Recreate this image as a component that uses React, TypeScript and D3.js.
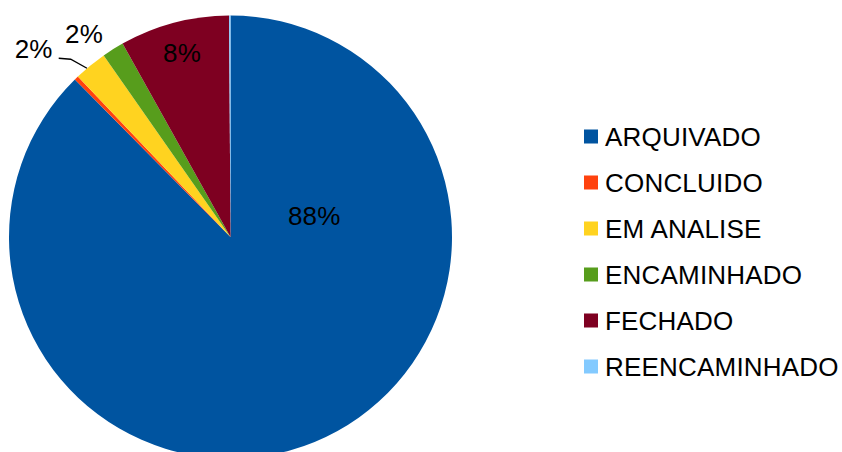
import React from "react";
import * as d3 from "d3";

const categories = ["ARQUIVADO", "CONCLUIDO", "EM ANALISE", "ENCAMINHADO", "FECHADO", "REENCAMINHADO"];
const values = [87.6, 0.3, 2.4, 1.6, 8.0, 0.1];
const colors = ["#0054a0", "#ff420e", "#ffd320", "#579d1c", "#7e0021", "#83caff"];
const labels = ["88%", "", "2%", "2%", "8%", ""];

const W = 842, H = 452;
const cx = 230.5, cy = 237, R = 221.5;
const FONT = "'Liberation Sans', Arial, sans-serif";

export default function App() {
  const pie = d3.pie<number>().sort(null).value((d) => d)(values);
  const arc = d3.arc<d3.PieArcDatum<number>>().innerRadius(0).outerRadius(R);

  const polar = (a: number, r: number): [number, number] => [cx + r * Math.sin(a), cy - r * Math.cos(a)];

  const labelPos = pie.map((p, i) => {
    const mid = (p.startAngle + p.endAngle) / 2;
    if (i === 0) return polar(mid - 1.43, 0.39 * R);
    if (i === 4) return polar(mid, 0.86 * R);
    if (i === 3) return polar(mid - 0.066, 1.13 * R);
    if (i === 2) return polar(mid - 0.124, 1.228 * R);
    return polar(mid, 0.7 * R);
  });

  const emMid = (pie[2].startAngle + pie[2].endAngle) / 2;
  const p0 = polar(emMid - 0.02, R * 1.0);
  const lp = labelPos[2];

  return (
    <svg width={W} height={H} style={{ position: "absolute", left: 0, top: 0 }}>
      <rect width={W} height={H} fill="#fff" />
      <g transform={`translate(${cx},${cy})`}>
        {pie.map((p, i) => (
          <path key={i} d={arc(p) || ""} fill={colors[i]} />
        ))}
      </g>
      <polyline
        points={`${lp[0] + 25},${lp[1] + 9} ${lp[0] + 37},${lp[1] + 10} ${p0[0]},${p0[1]}`}
        fill="none"
        stroke="#000"
        strokeWidth={1.3}
      />
      {labels.map((t, i) =>
        t ? (
          <text
            key={i}
            x={labelPos[i][0]}
            y={labelPos[i][1]}
            textAnchor="middle"
            dominantBaseline="central"
            fontFamily={FONT}
            fontSize={26}
            letterSpacing={0.2}
            fill="#000"
          >
            {t}
          </text>
        ) : null
      )}
      {categories.map((c, i) => (
        <g key={c} transform={`translate(584,${136.5 + i * 46})`}>
          <rect x={0} y={-7} width={14} height={14} fill={colors[i]} />
          <text x={21} y={0} dominantBaseline="central" fontFamily={FONT} fontSize={26} letterSpacing={0.2} fill="#000">
            {c}
          </text>
        </g>
      ))}
    </svg>
  );
}
